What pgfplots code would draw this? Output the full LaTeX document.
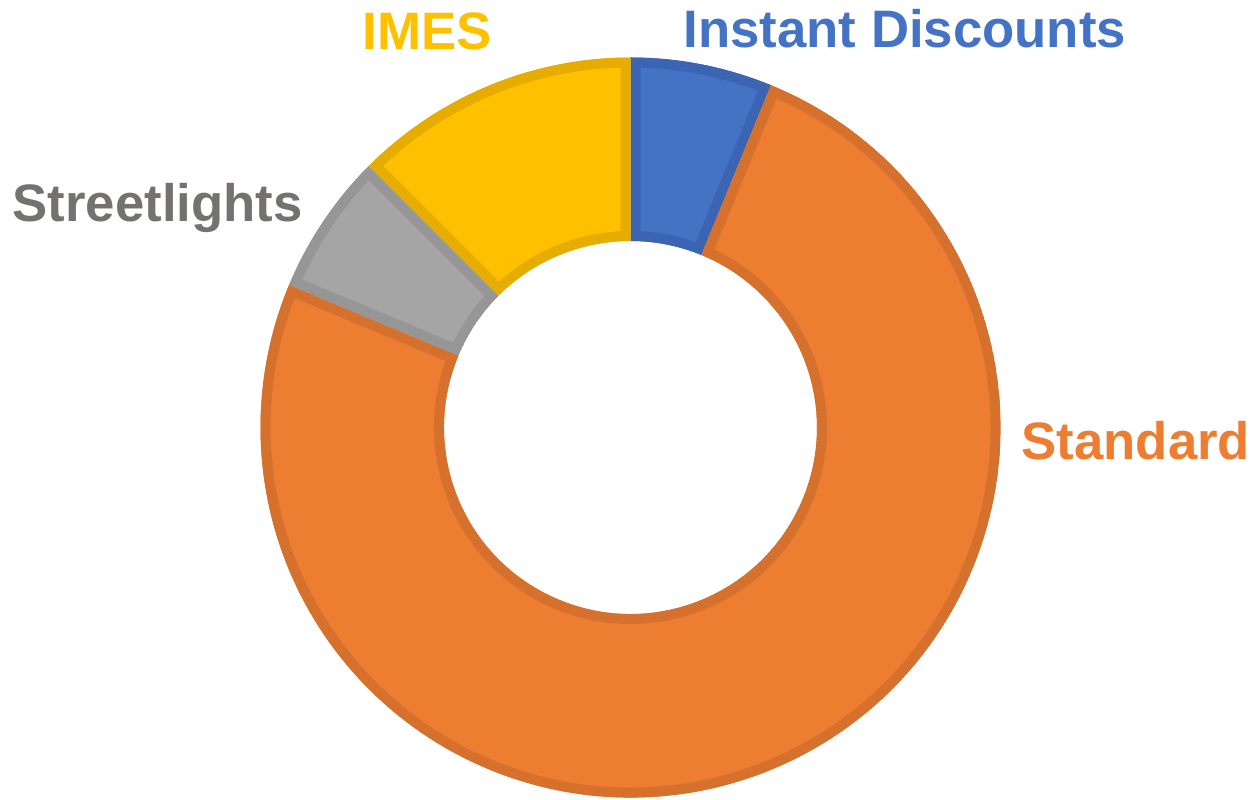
\documentclass[border=0pt]{standalone}
\usepackage{fontspec}
\setmainfont{Liberation Sans}
\usepackage{pgfplots}
\pgfplotsset{compat=1.18}
\definecolor{cBlue}{HTML}{4472C4}\definecolor{cBlueB}{HTML}{3B64B2}
\definecolor{cOrange}{HTML}{ED7D31}\definecolor{cOrangeB}{HTML}{D6702D}
\definecolor{cGray}{HTML}{A5A5A5}\definecolor{cGrayB}{HTML}{969696}
\definecolor{cYellow}{HTML}{FFC000}\definecolor{cYellowB}{HTML}{E6AD00}
\definecolor{cText}{HTML}{767171}
% shares of the donut (per cent)
\def\vInstant{6.2}
\def\vStandard{75.1}
\def\vStreet{6.2}
\def\vIMES{12.5}
\def\cx{6.305}\def\cy{3.715}\def\Rout{3.70}\def\Rin{1.865}
\pgfmathsetmacro{\aA}{90}
\pgfmathsetmacro{\aB}{\aA-\vInstant*3.6}
\pgfmathsetmacro{\aC}{\aB-\vStandard*3.6}
\pgfmathsetmacro{\aD}{\aC-\vStreet*3.6}
\pgfmathsetmacro{\aE}{\aD-\vIMES*3.6}
\newcommand{\slicepath}[2]{(axis cs:{\cx+\Rout*cos(#1)},{\cy+\Rout*sin(#1)}) arc[start angle=#1,end angle=#2,radius=\Rout] -- (axis cs:{\cx+\Rin*cos(#2)},{\cy+\Rin*sin(#2)}) arc[start angle=#2,end angle=#1,radius=\Rin] -- cycle}
\newcommand{\donutslice}[4]{%
  \begin{scope}
    \clip \slicepath{#1}{#2};
    \fill[#3] \slicepath{#1}{#2};
    \draw[#4, line width=0.2cm] \slicepath{#1}{#2};
  \end{scope}}
\begin{document}
\begin{tikzpicture}
\begin{axis}[x=1cm, y=1cm, xmin=0, xmax=12.55, ymin=0, ymax=7.99, hide axis, clip=false,
  at={(0,0)}, anchor=origin]
\donutslice{\aA}{\aB}{cBlue}{cBlueB}
\donutslice{\aB}{\aC}{cOrange}{cOrangeB}
\donutslice{\aC}{\aD}{cGray}{cGrayB}
\donutslice{\aD}{\aE}{cYellow}{cYellowB}
\begin{scope}[every node/.style={inner sep=0pt, font=\fontsize{15}{18}\selectfont\bfseries}]
\node[anchor=base west, text=cBlue] at (axis cs:6.83,7.51) {Instant Discounts};
\node[anchor=base west, text=cYellow] at (axis cs:3.62,7.49) {IMES};
\node[anchor=base west, text=cText] at (axis cs:0.12,5.77) {Streetlights};
\node[anchor=base west, text=cOrange] at (axis cs:10.21,3.39) {Standard};
\end{scope}
\end{axis}
\pgfresetboundingbox
\path[use as bounding box] (0,0) rectangle (12.55,7.99);
\end{tikzpicture}
\end{document}
